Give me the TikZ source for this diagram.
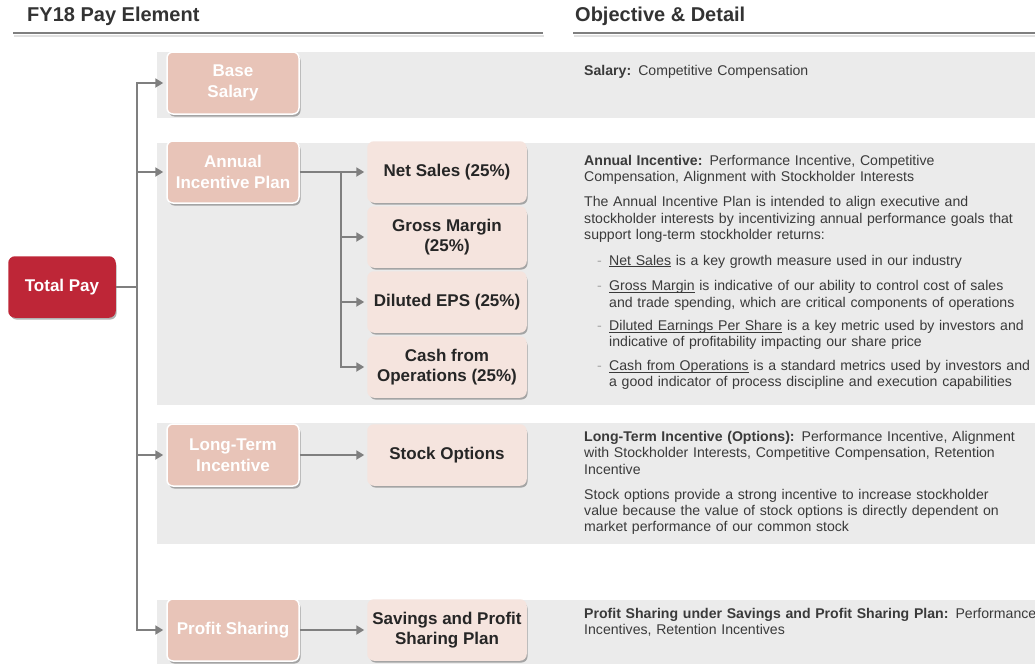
\documentclass[tikz,border=0pt]{standalone}
\usepackage{fontspec}
\setmainfont{Liberation Sans}
\usetikzlibrary{arrows.meta,shadows,positioning}
\definecolor{totred}{HTML}{BE2637}
\definecolor{paypink}{HTML}{E8C4B8}
\definecolor{subpink}{HTML}{F5E4DE}
\definecolor{bandgray}{HTML}{EBEBEB}
\definecolor{linegray}{HTML}{7F7F7F}
\definecolor{txtgray}{HTML}{3A3A3A}
\newcommand{\payitem}[1]{\par\vspace{9.4pt}\noindent\makebox[25pt][l]{\hspace{13pt}\textcolor{black!35}{-}}\parbox[t]{440pt}{\raggedright #1}}
\newcommand{\payul}[1]{\underline{\smash{#1}}}
\begin{document}
\begin{tikzpicture}[x=1pt,y=-1pt,
		paybox/.style={rounded corners=6pt, fill=paypink, draw=white, line width=1.5pt, text=white, align=center,
			font=\fontsize{17}{20.5}\selectfont\bfseries, minimum width=132pt, minimum height=62pt, inner sep=2pt,
			drop shadow={shadow xshift=1.5pt, shadow yshift=-2.5pt, opacity=0.3, fill=black}},
		subbox/.style={paybox, fill=subpink, draw=subpink, text=black!85, minimum width=158pt, minimum height=60pt},
		totbox/.style={paybox, fill=totred, draw=totred, minimum width=106pt, minimum height=60pt},
		link/.style={draw=linegray, line width=2.5pt, -{Triangle[length=8pt,width=9pt]}, shorten >=3pt},
		detail/.style={anchor=north west, inner sep=0pt, text width=470pt, align=left, text=txtgray,
			font=\fontsize{14.1}{16.3}\selectfont}]
	\useasboundingbox (0,0) rectangle (1035,664);
	% bands
	\fill[bandgray] (157,52) rectangle (1035,118);
	\fill[bandgray] (157,143) rectangle (1035,405);
	\fill[bandgray] (157,423) rectangle (1035,544);
	\fill[bandgray] (157,600) rectangle (1035,664);
	% headings
	\node[anchor=west, inner sep=0pt, text=black!80, font=\fontsize{20}{22}\selectfont\bfseries] (hpay) at (27,16) {FY18 Pay Element};
	\node[anchor=west, inner sep=0pt, text=black!80, font=\fontsize{20}{22}\selectfont\bfseries] (hobj) at (575,16) {Objective \& Detail};
	\draw[black!12, line width=2pt] (14,36) -- (544,36);
	\draw[black!12, line width=2pt] (574,36) -- (1035,36);
	\draw[linegray, line width=2pt] (13,33) -- (543,33);
	\draw[linegray, line width=2pt] (573,33) -- (1035,33);
	% boxes
	\node[totbox] (tot) at (62,287) {Total Pay};
	\node[paybox] (base) at (233,83) {Base\\Salary};
	\node[paybox] (aip) at (233,172) {Annual\\Incentive Plan};
	\node[paybox] (lti) at (233,455) {Long-Term\\Incentive};
	\node[paybox] (ps) at (233,630) {Profit Sharing};
	\node[subbox] (ns) at (447,172) {Net Sales (25\%)};
	\node[subbox] (gm) at (447,237) {Gross Margin\\(25\%)};
	\node[subbox] (eps) at (447,302) {Diluted EPS (25\%)};
	\node[subbox] (cfo) at (447,367) {Cash from\\Operations (25\%)};
	\node[subbox] (so) at (447,455) {Stock Options};
	\node[subbox] (sps) at (447,630) {Savings and Profit\\Sharing Plan};
	% connectors
	\coordinate (tk) at (137,0);
	\coordinate (sk) at (341,0);
	\draw[link, {Triangle[length=8pt,width=9pt]}-{Triangle[length=8pt,width=9pt]}, shorten <=3pt] (ps.west) -- (tk |- ps.west) -- (tk |- base.west) -- (base.west);
	\draw[draw=linegray, line width=2.5pt] (tot.east) -- (tk |- tot.east);
	\foreach \b in {aip,lti}
		\draw[link] (tk |- \b.west) -- (\b.west);
	\draw[link] (aip.east) -- (ns.west);
	\draw[link, {Triangle[length=8pt,width=9pt]}-, shorten <=3pt, shorten >=0pt] (cfo.west) -- (sk |- cfo.west) -- (sk |- ns.west);
	\foreach \b in {gm,eps}
		\draw[link] (sk |- \b.west) -- (\b.west);
	\draw[link] (lti.east) -- (so.west);
	\draw[link] (ps.east) -- (sps.west);
	% details
	\node[detail] (dbase) at (584,65) {\textbf{Salary:} Competitive Compensation};
	\node[detail] (daip) at (584,155) {\textbf{Annual Incentive:} Performance Incentive, Competitive\\Compensation, Alignment with Stockholder Interests\par\vspace{8.7pt}
		The Annual Incentive Plan is intended to align executive and\\stockholder interests by incentivizing annual performance goals that\\support long-term stockholder returns:
		\payitem{\payul{Net Sales} is a key growth measure used in our industry}
		\payitem{\payul{Gross Margin} is indicative of our ability to control cost of sales\\and trade spending, which are critical components of operations}
		\payitem{\payul{Diluted Earnings Per Share} is a key metric used by investors and\\indicative of profitability impacting our share price}
		\payitem{\payul{Cash from Operations} is a standard metrics used by investors and\\a good indicator of process discipline and execution capabilities}};
	\node[detail] (dlti) at (584,431) {\textbf{Long-Term Incentive (Options):} Performance Incentive, Alignment\\with Stockholder Interests, Competitive Compensation, Retention\\Incentive\par\vspace{8.7pt}
		Stock options provide a strong incentive to increase stockholder\\value because the value of stock options is directly dependent on\\market performance of our common stock};
	\node[detail] (dps) at (584,608) {\textbf{Profit Sharing under Savings and Profit Sharing Plan:} Performance\\Incentives, Retention Incentives};
\end{tikzpicture}
\end{document}
